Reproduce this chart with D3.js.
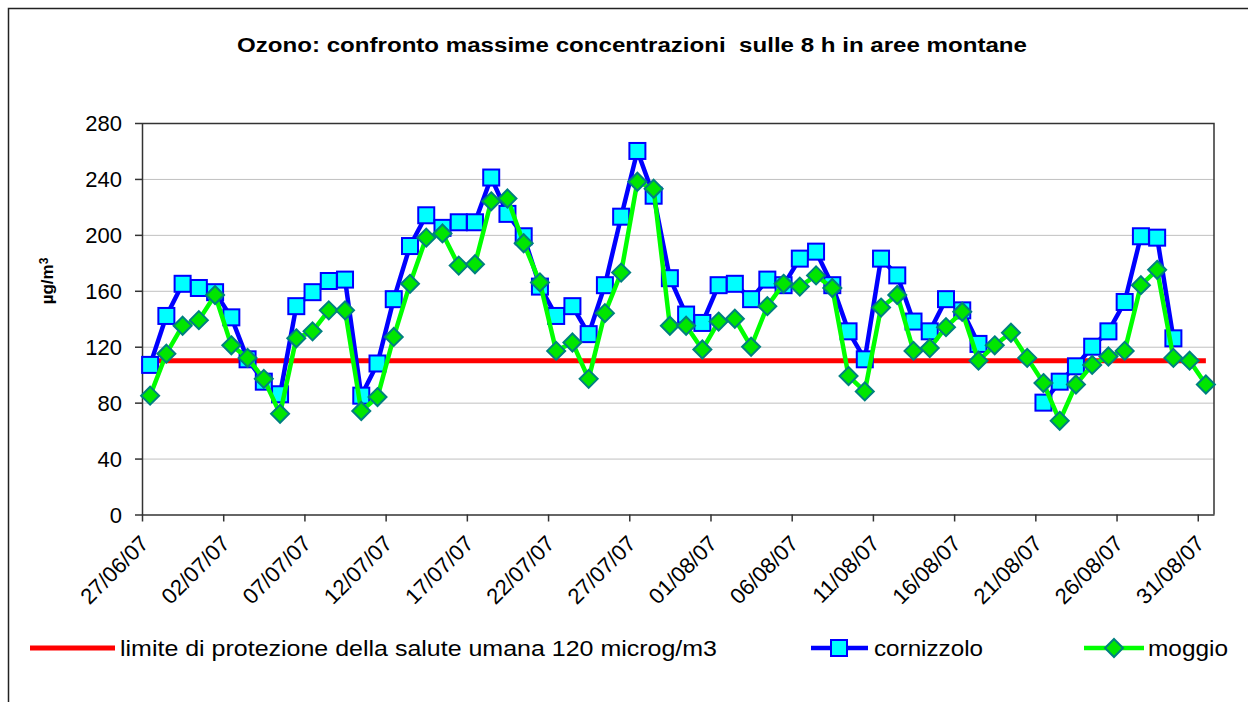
<!DOCTYPE html>
<html>
<head>
<meta charset="utf-8">
<script src="https://cdn.jsdelivr.net/npm/d3@7"></script>
<style>
  body { margin: 0; background: #fff; }
  svg { font-family: "Liberation Sans", Arial, sans-serif; }
  .grid line { stroke: #c0c0c0; stroke-width: 1; }
  .grid path { stroke: none; }
  .axis path, .axis line { stroke: #333; stroke-width: 1.5; }
</style>
</head>
<body>
<script>
// day-by-day values, 27/06/07 -> 31/08/07 (null = no data)
var cornizzolo = [107,142,165,162,159,141,111,95,86,149,159,167,168,85,108,154,192,214,205,209,
  209,241,215,199,163,142,149,129,164,213,260,228,169,143,137,164,165,154,168,164,
  183,188,164,131,111,183,171,138,131,154,146,122,null,null,null,80,95,106,120,131,
  152,199,198,126,null,null];
var moggio = [85,115,135,139,157,121,112,97,72,126,131,146,146,74,84,127,165,198,201,178,
  179,224,226,194,166,117,123,97,144,173,238,233,135,135,118,138,140,120,149,165,
  163,171,162,99,88,148,157,117,119,134,145,110,121,130,112,94,67,93,107,113,
  117,164,175,112,110,93];
var limite = 110;
var yTicks = [0,40,80,120,160,200,240,280];
var tickLabels = ["27/06/07","02/07/07","07/07/07","12/07/07","17/07/07","22/07/07","27/07/07",
  "01/08/07","06/08/07","11/08/07","16/08/07","21/08/07","26/08/07","31/08/07"];
var seriesNames = ["limite di protezione della salute umana 120 microg/m3","cornizzolo","moggio"];

var W = 1248, H = 702;
var margin = {top: 123, left: 142, right: 34, bottom: 187.5};
var width = W - margin.left - margin.right;
var height = H - margin.top - margin.bottom;

var parseTime = d3.timeParse("%d/%m/%y");
var start = parseTime("27/06/07");
var end = parseTime("01/09/07");
var days = d3.timeDay.range(start, end);

var x = d3.scaleTime().domain([start, end]).range([0, width]);
var y = d3.scaleLinear().domain([0, 280]).range([height, 0]);
// points sit in the middle of each day
var xMid = function(i) { return x(d3.timeHour.offset(days[i], 12)); };

var svg = d3.select("body").append("svg")
  .attr("width", W).attr("height", H);

// outer frame
svg.append("path")
  .attr("d", "M8.5," + H + "V8.5H" + W)
  .attr("fill", "none").attr("stroke", "#222").attr("stroke-width", 1.5);

svg.append("text")
  .attr("x", 237).attr("y", 52)
  .attr("font-size", "20px").attr("font-weight", "bold")
  .attr("textLength", 790).attr("lengthAdjust", "spacingAndGlyphs")
  .style("white-space", "pre")
  .text("Ozono: confronto massime concentrazioni  sulle 8 h in aree montane");

var g = svg.append("g")
  .attr("transform", "translate(" + margin.left + "," + margin.top + ")");

// gridlines
g.append("g").attr("class", "grid")
  .call(d3.axisLeft(y).tickValues(yTicks.slice(1, -1)).tickSize(-width).tickFormat(""));

// plot border top/right
g.append("path")
  .attr("d", "M0,0.5H" + width + "V" + height)
  .attr("fill", "none").attr("stroke", "#333").attr("stroke-width", 1.5);

// y axis
var gy = g.append("g").attr("class", "axis")
  .call(d3.axisLeft(y).tickValues(yTicks).tickSize(7).tickPadding(13).tickSizeOuter(0));
gy.selectAll("text").attr("font-size", "22px").attr("fill", "#000").attr("dy", "0.36em");

// x axis
var tickDates = tickLabels.map(parseTime);
var gx = g.append("g").attr("class", "axis")
  .attr("transform", "translate(0," + height + ")")
  .call(d3.axisBottom(x).tickValues(tickDates).tickSize(7).tickSizeOuter(0).tickFormat(""));
gx.selectAll(".tick").append("text")
  .attr("transform", "translate(2,25) rotate(-45)")
  .attr("text-anchor", "end")
  .attr("dy", "0.35em")
  .attr("font-size", "22px")
  .attr("fill", "#000")
  .text(function(d, i) { return tickLabels[i]; });

// y label
var yl = svg.append("text")
  .attr("transform", "translate(53,281) rotate(-90)")
  .attr("text-anchor", "middle")
  .attr("font-size", "17px").attr("font-weight", "bold");
yl.append("tspan").text("µg/m");
yl.append("tspan").attr("dy", "-0.45em").attr("font-size", "12px").text("3");

// lines
var line = d3.line()
  .defined(function(d) { return d != null; })
  .x(function(d, i) { return xMid(i); })
  .y(function(d) { return y(d); });

g.append("path")
  .datum(days.map(function() { return limite; }))
  .attr("d", line)
  .attr("fill", "none").attr("stroke", "#ff0000").attr("stroke-width", 5);

g.append("path")
  .datum(cornizzolo)
  .attr("d", line)
  .attr("fill", "none").attr("stroke", "#0000ff").attr("stroke-width", 4.5)
  .attr("stroke-linejoin", "round");

g.selectAll(".sq")
  .data(cornizzolo.map(function(v, i) { return {v: v, i: i}; }).filter(function(d) { return d.v != null; }))
  .enter().append("rect")
  .attr("class", "sq")
  .attr("x", function(d) { return xMid(d.i) - 8; })
  .attr("y", function(d) { return y(d.v) - 8; })
  .attr("width", 16).attr("height", 16)
  .attr("fill", "#00ffff").attr("stroke", "#0000ff").attr("stroke-width", 2);

g.append("path")
  .datum(moggio)
  .attr("d", line)
  .attr("fill", "none").attr("stroke", "#00ff00").attr("stroke-width", 4.5)
  .attr("stroke-linejoin", "round");

var diamond = "M0,-9L9,0L0,9L-9,0Z";
g.selectAll(".dm")
  .data(moggio)
  .enter().append("path")
  .attr("class", "dm")
  .attr("transform", function(d, i) { return "translate(" + xMid(i) + "," + y(d) + ")"; })
  .attr("d", diamond)
  .attr("fill", "#00e600").attr("stroke", "#008080").attr("stroke-width", 2);

// legend
var ly = 648;
var leg = svg.append("g");
leg.append("line").attr("x1", 30).attr("x2", 115).attr("y1", ly).attr("y2", ly)
  .attr("stroke", "#ff0000").attr("stroke-width", 5);
leg.append("text").attr("x", 120).attr("y", ly).attr("dy", "0.36em")
  .attr("font-size", "22px").attr("textLength", 597).attr("lengthAdjust", "spacingAndGlyphs")
  .text(seriesNames[0]);

leg.append("line").attr("x1", 811).attr("x2", 868).attr("y1", ly).attr("y2", ly)
  .attr("stroke", "#0000ff").attr("stroke-width", 4.5);
leg.append("rect").attr("x", 831).attr("y", ly - 8).attr("width", 16).attr("height", 16)
  .attr("fill", "#00ffff").attr("stroke", "#0000ff").attr("stroke-width", 2);
leg.append("text").attr("x", 874).attr("y", ly).attr("dy", "0.36em")
  .attr("font-size", "22px").attr("textLength", 109).attr("lengthAdjust", "spacingAndGlyphs")
  .text(seriesNames[1]);

leg.append("line").attr("x1", 1084).attr("x2", 1144).attr("y1", ly).attr("y2", ly)
  .attr("stroke", "#00ff00").attr("stroke-width", 4.5);
leg.append("path").attr("transform", "translate(1114," + ly + ")").attr("d", diamond)
  .attr("fill", "#00e600").attr("stroke", "#008080").attr("stroke-width", 2);
leg.append("text").attr("x", 1148).attr("y", ly).attr("dy", "0.36em")
  .attr("font-size", "22px").attr("textLength", 80).attr("lengthAdjust", "spacingAndGlyphs")
  .text(seriesNames[2]);
</script>
</body>
</html>
